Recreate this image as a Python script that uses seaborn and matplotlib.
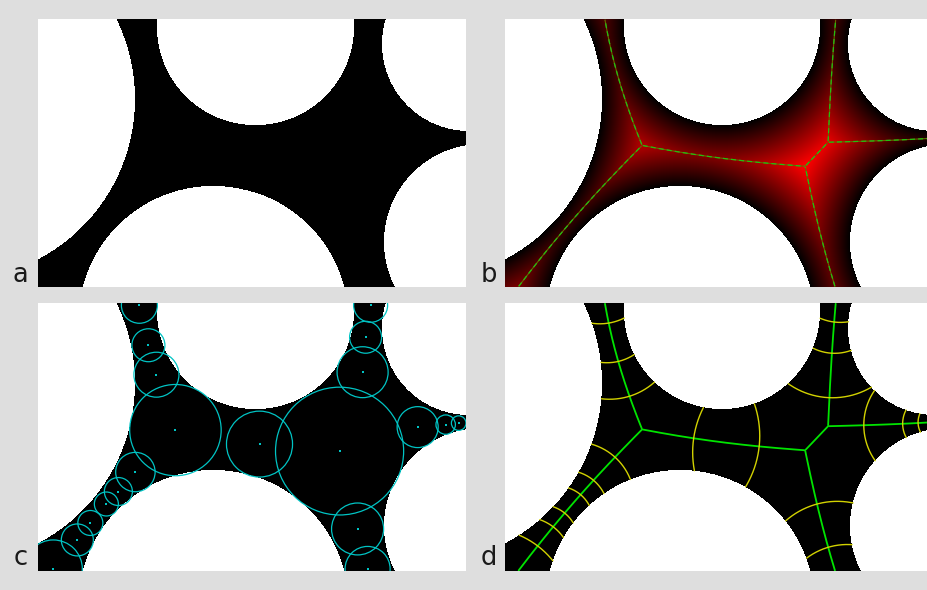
import numpy as np
import matplotlib
matplotlib.use("Agg")
import matplotlib.pyplot as plt
from matplotlib.colors import LinearSegmentedColormap, ListedColormap
from matplotlib.patches import Circle
import seaborn as sns

sns.set_style("white")
plt.rcParams["font.family"] = ["DejaVu Sans"]

# Panel grid size (one cell per pixel, y pointing down)
W, H = 427, 268

# Solid grains (discs): centre and radius
grain_x = [-84.0, 217.0, 430.0, 175.0, 443.0]
grain_y = [80.0, 8.0, 25.0, 301.5, 223.0]
grain_r = [181.0, 98.0, 87.0, 134.5, 98.0]

# Maximal inscribed balls placed along the medial axis
ball_x = [101, 110, 118, 137, 221, 301, 332, 327, 324, 379, 407, 420,
          319, 329, 97, 80, 68, 52, 39, 15]
ball_y = [2, 42, 71.5, 127, 141, 148, 2, 34, 69, 124, 121.5, 120,
          226, 266, 169, 188.5, 201, 220, 237, 266]
ball_r = [18, 16.5, 22.5, 45.7, 33, 64, 17, 16, 25.5, 20.5, 9.7, 7.3,
          26, 22.5, 19.7, 14, 12, 12.5, 16, 29]
# pore body each ball's partition arc faces ("" = none, "both" = two arcs)
ball_faces = ["J1", "J1", "J1", "", "both", "", "J2", "J2", "J2", "J2", "J2", "J2",
              "J2", "J2", "J1", "J1", "J1", "J1", "J1", "J1"]
body_names = ["J1", "J2"]
body_x = [137, 301]
body_y = [127, 148]

panel_labels = ["a", "b", "c", "d"]

BLACK = "#000000"
CYAN = "#00c4c4"
YELLOW = "#d2d200"
GREEN = "#00e400"

# ---- fields -------------------------------------------------------------
xs = np.arange(W) + 0.5
ys = np.arange(H) + 0.5
XX, YY = np.meshgrid(xs, ys)
gx, gy, gr = map(np.asarray, (grain_x, grain_y, grain_r))
D = np.stack([np.hypot(XX - x, YY - y) - r for x, y, r in zip(gx, gy, gr)])
dist = D.min(axis=0)
pore = dist > 0


def grain_gap(px, py):
    px = np.asarray(px, float)[..., None]
    py = np.asarray(py, float)[..., None]
    return (np.hypot(px - gx, py - gy) - gr).min(axis=-1)


def medial_segments(ax):
    order = np.argsort(D, axis=0)
    first, second = order[0], order[1]
    segs = []
    n = len(gx)
    for i in range(n):
        for j in range(i + 1, n):
            band = ((first == i) & (second == j)) | ((first == j) & (second == i))
            band &= pore
            if band.sum() < 3:
                continue
            g = np.ma.array(D[i] - D[j], mask=~band)
            cs = ax.contour(xs, ys, g, levels=[0.0])
            segs.extend([s for s in cs.allsegs[0] if len(s) > 1])
            cs.remove()
    return segs


def partition_arcs():
    arcs = []
    for px, py, r, face in zip(ball_x, ball_y, ball_r, ball_faces):
        if not face:
            continue
        gap = np.hypot(px - gx, py - gy) - gr
        near = np.argsort(gap)[:2]
        a1, a2 = [np.arctan2(gy[k] - py, gx[k] - px) for k in near]
        span = (a2 - a1) % (2 * np.pi)
        sides = [(a1, span), (a2, 2 * np.pi - span)]
        if face == "both":
            chosen = sides
        else:
            k = body_names.index(face)
            tgt = np.arctan2(body_y[k] - py, body_x[k] - px)
            chosen = [sides[0]] if (tgt - a1) % (2 * np.pi) < span else [sides[1]]
        for start, sp in chosen:
            u = start + sp / 2
            R = 3.0 * r
            fx, fy = px + r * np.cos(u), py + r * np.sin(u)
            qx, qy = fx - R * np.cos(u), fy - R * np.sin(u)
            t = u + np.linspace(-np.pi / 2, np.pi / 2, 1601)
            ax_, ay_ = qx + R * np.cos(t), qy + R * np.sin(t)
            ok = grain_gap(ax_, ay_) > 0
            mid = len(t) // 2
            lo = mid
            while lo > 0 and ok[lo - 1]:
                lo -= 1
            hi = mid
            while hi < len(t) - 1 and ok[hi + 1]:
                hi += 1
            arcs.append((ax_[lo:hi + 1], ay_[lo:hi + 1]))
    return arcs


# ---- figure -------------------------------------------------------------
FW, FH = 928, 590
fig = plt.figure(figsize=(FW / 100, FH / 100), dpi=100, facecolor="#dedede")


def panel(x0, y0, w=427.4, h=267.6):
    ax = fig.add_axes([x0 / FW, 1 - (y0 + h) / FH, w / FW, h / FH])
    ax.set_facecolor("white")
    return ax


ax_a = panel(38.3, 19.3)
ax_b = panel(505.0, 19.3)
ax_c = panel(38.3, 303.3)
ax_d = panel(505.0, 303.3)

solid = ListedColormap([BLACK])
ember = LinearSegmentedColormap.from_list("ember", ["#000000", "#ff0000"])

for ax in (ax_a, ax_c, ax_d):
    sns.heatmap(np.zeros((H, W)), mask=~pore, cmap=solid, cbar=False,
                xticklabels=False, yticklabels=False, ax=ax)

sns.heatmap(np.where(pore, dist, 0.0), mask=~pore, cmap=ember, vmin=0,
            vmax=float(dist[:, :423].max()), cbar=False,
            xticklabels=False, yticklabels=False, ax=ax_b)

segs = medial_segments(ax_b)

# b: distance map with dashed medial axis
for s in segs:
    ax_b.plot(s[:, 0], s[:, 1], color="#6a6400", lw=0.8, solid_capstyle="butt")
    ax_b.plot(s[:, 0], s[:, 1], color="#22c010", lw=0.9, ls=(0, (4, 2.5)))

# c: maximal balls with their centres
for x, y, r in zip(ball_x, ball_y, ball_r):
    ax_c.add_patch(Circle((x, y), r, fill=False, ec=CYAN, lw=0.9))
ax_c.scatter(ball_x, ball_y, s=1.2, c=CYAN, marker="s", linewidths=0)

# d: medial axis with pore partition arcs
for s in segs:
    ax_d.plot(s[:, 0], s[:, 1], color=GREEN, lw=1.3)
for x, y in partition_arcs():
    ax_d.plot(x, y, color=YELLOW, lw=1.0)

for ax in (ax_a, ax_b, ax_c, ax_d):
    ax.set_xlim(0, W)
    ax.set_ylim(H, 0)
    ax.set_xticks([])
    ax.set_yticks([])
    for sp in ax.spines.values():
        sp.set_visible(False)

label_pos = [(20.5, 282), (488.5, 282), (20.5, 565), (488.5, 565)]
for lab, (lx, ly) in zip(panel_labels, label_pos):
    fig.text(lx / FW, 1 - ly / FH, lab, ha="center", va="baseline",
             fontsize=18.5, color="#1a1a1a")

fig.savefig("out.png", dpi=100, facecolor=fig.get_facecolor())
